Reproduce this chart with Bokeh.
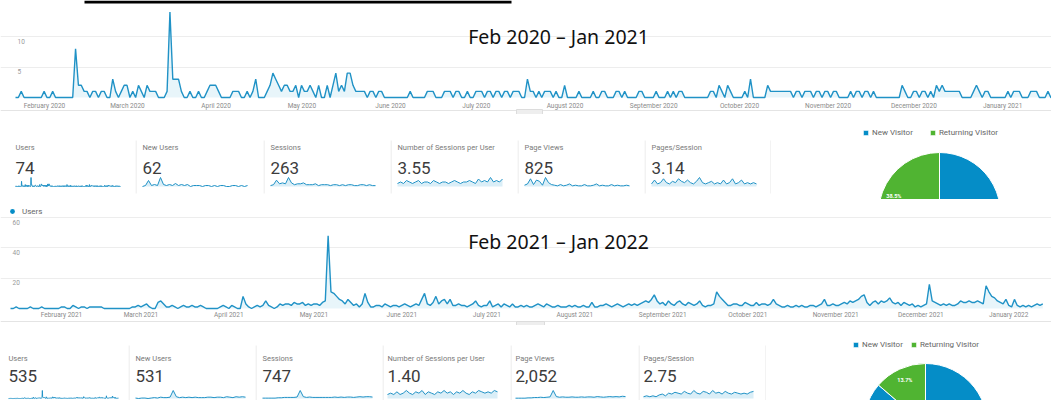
import math
import pandas as pd
from bokeh.plotting import figure
from bokeh.layouts import column, row
from bokeh.models import (Range1d, Grid, FixedTicker, Span, Legend, LegendItem,
                          Label, ColumnDataSource, BoxAnnotation)
from bokeh.core.properties import value
from bokeh.embed import file_html
from bokeh.resources import INLINE

# ---------------- data ----------------
period1_start = "2020-02-01"
users_p1 = (
    [0,0,1,0,0,0,0,0,0,0, 1,0,0,1,0,0,0,0,0,0, 0,8,2,2,1,1,0,1,1] +          # Feb 2020
    [0,1,1,0,0,3,1,0,1,2, 2,0,1,0,2,1,0,2,1,1, 1,0,0,0,1,14,3,3,3,1, 0] +    # Mar
    [0,1,0,0,1,0,0,1,2,2, 2,1,0,0,0,0,1,1,1,0, 0,1,0,1,3,0,0,0,1,2] +        # Apr
    [4,3,2,1,2,2,1,1,2,0, 2,1,1,2,1,0,2,0,0,2, 0,2,4,1,2,1,4,4,2,1, 1] +     # May
    [1,1,0,1,1,0,1,1,0,0, 0,0,0,0,0,0,0,1,0,0, 0,0,0,1,1,1,0,0,0,1] +        # Jun
    [1,1,0,1,1,0,0,1,0,0, 1,1,1,0,1,1,0,1,1,0, 1,1,0,1,1,1,0,0,3,1, 1] +     # Jul
    [0,1,0,1,1,1,0,1,0,0, 2,0,0,0,0,1,0,0,0,0, 1,0,0,1,1,0,0,0,1,1, 0] +     # Aug
    [1,0,0,0,0,1,1,0,0,0, 0,1,0,0,0,1,0,1,0,1, 1,0,0,0,0,0,0,0,0,0] +        # Sep
    [1,1,0,2,1,0,2,1,0,0, 0,0,1,0,3,0,0,0,0,0, 2,1,1,1,1,1,1,1,1,0, 1] +     # Oct
    [1,0,1,1,1,0,1,1,0,1, 1,0,1,1,0,0,0,0,1,0, 1,1,0,1,1,0,1,0,0,0] +        # Nov
    [0,0,0,0,0,0,2,1,0,0, 1,1,0,1,1,0,1,0,2,1, 2,1,1,1,1,1,1,0,0,0, 0] +     # Dec
    [1,2,1,0,1,1,0,0,0,0, 0,0,1,0,1,1,1,0,0,0, 1,1,1,0,0,0,1,0,0,0, 0]       # Jan 2021
)
months_p1 = ["February 2020", "March 2020", "April 2020", "May 2020", "June 2020",
             "July 2020", "August 2020", "September 2020", "October 2020",
             "November 2020", "December 2020", "January 2021"]
ticks_p1 = [5, 10]
tick_labels_p1 = ["5", "10"]
title_p1 = "Feb 2020 \u2013 Jan 2021"

period2_start = "2021-02-01"
users_p2 = (
    [0,0,1,0,0,0,0,1,0,0, 0,1,0,0,0,0,0,0,1,1, 0,0,2,1,0,1,1,0] +            # Feb 2021
    [1,1,1,1,1,0,0,0,0,0, 0,0,0,0,0,1,1,2,1,2, 3,1,0,0,4,5,3,1,1,2, 1] +     # Mar
    [0,1,2,1,1,2,1,1,2,1, 0,0,0,0,0,1,2,1,0,2, 1,0,0,8,3,1,0,1,2,1] +        # Apr
    [2,5,2,1,0,1,3,2,3,3, 2,4,3,3,4,2,3,2,3,3, 2,4,5,48,11,10,8,6,5,3, 6] +  # May
    [4,2,3,1,3,10,4,1,1,2, 2,1,3,2,1,2,2,1,2,3, 2,1,2,3,2,6,10,3,2,4] +      # Jun
    [8,3,5,6,3,6,2,2,3,2, 2,1,2,3,5,2,1,2,2,5, 1,2,3,1,3,2,1,3,1,1, 2] +     # Jul
    [1,2,1,1,2,3,2,1,3,2, 1,1,2,1,1,1,2,1,2,1, 1,2,1,1,4,1,1,2,2,3, 2] +     # Aug
    [1,2,3,2,1,2,3,2,3,2, 3,4,5,4,6,9,5,3,4,2, 5,3,2,4,5,3,2,4,3,2] +        # Sep
    [3,5,2,1,2,2,3,11,8,6, 4,2,2,3,3,2,2,4,3,2, 2,4,2,3,3,2,3,6,3,2, 1] +    # Oct
    [1,2,1,1,2,1,2,1,1,2, 2,1,2,3,6,2,2,3,2,2, 3,4,3,5,4,5,6,8,9,4] +        # Nov
    [2,4,5,3,5,4,5,7,4,3, 4,2,4,3,2,3,1,2,1,2, 3,16,5,4,3,2,3,2,3,2, 2] +    # Dec
    [3,5,4,4,5,4,4,5,4,3, 15,11,8,7,5,4,3,6,2,1, 6,2,1,2,1,2,1,2,3,2, 3]     # Jan 2022
)
months_p2 = ["February 2021", "March 2021", "April 2021", "May 2021", "June 2021",
             "July 2021", "August 2021", "September 2021", "October 2021",
             "November 2021", "December 2021", "January 2022"]
ticks_p2 = [20, 40, 60]
tick_labels_p2 = ["20", "40", "60"]
title_p2 = "Feb 2021 \u2013 Jan 2022"

kpi_names = ["Users", "New Users", "Sessions", "Number of Sessions per User",
             "Page Views", "Pages/Session"]
kpi_values_p1 = ["74", "62", "263", "3.55", "825", "3.14"]
kpi_values_p2 = ["535", "531", "747", "1.40", "2,052", "2.75"]

spark_new_users_p1 = [0,1,6,1,2,1,9,2,1,2,1,3,1,2,1,2,0,1,1,1,0,1,1,0,1,0,1,1,0,0,1,1,0,1,0,1]
spark_sessions_p1 = [1,2,7,3,4,3,10,4,2,3,3,4,2,2,2,3,1,2,2,2,1,2,2,1,2,1,2,2,1,1,2,2,1,2,1,1]
spark_spu_p1 = [2,3,2,4,3,2,3,4,2,3,3,2,4,3,2,3,3,2,3,4,3,2,3,3,4,3,2,5,3,4,3,6,3,4,3,5]
spark_pv_p1 = [2,4,12,3,10,8,2,14,6,3,2,1,3,1,2,4,1,2,1,1,3,1,1,2,4,1,2,1,1,3,1,2,1,1,2,1]
spark_pps_p1 = [2,5,2,3,6,3,2,4,3,6,4,3,5,3,2,4,7,3,2,3,4,2,3,2,5,2,3,6,2,3,5,2,3,2,3,2]

spark_new_users_p2 = [1,0,1,1,0,1,2,1,3,2,2,3,18,4,2,3,2,3,2,3,2,2,2,3,3,2,3,3,2,4,3,2,4,3,4,3]
spark_sessions_p2 = [1,1,1,1,1,2,2,3,3,3,3,4,22,5,3,4,3,3,3,3,3,3,3,4,3,4,3,4,4,3,4,5,4,5,5,4]
spark_spu_p2 = [3,4,3,5,3,4,6,4,3,5,4,6,3,5,4,3,5,4,6,4,5,3,5,4,6,4,3,5,4,6,5,4,5,4,6,5]
spark_pv_p2 = [1,1,1,1,2,2,3,3,4,3,4,5,25,6,4,5,4,4,5,4,4,5,4,5,5,4,6,5,4,5,6,5,6,5,7,6]
spark_pps_p2 = [2,3,2,3,2,4,5,3,6,5,7,6,5,8,6,5,9,6,5,8,7,5,9,6,7,5,8,6,5,7,6,5,6,5,7,8]

visitor_types = ["New Visitor", "Returning Visitor"]
visitor_share_p1 = [61.5, 38.5]
visitor_share_p2 = [86.3, 13.7]
visitor_colors = ["#058dc7", "#50b432"]

# ---------------- style ----------------
BLUE = "#2092c6"
W = 1051
FONT = "Roboto"
DAY_MS = 86400000.0


def base_fig(w, h, xr, yr):
    p = figure(width=w, height=h, x_range=xr, y_range=yr, output_backend="svg",
               toolbar_location=None, x_axis_location=None, y_axis_location=None,
               min_border=0)
    p.outline_line_color = None
    p.background_fill_color = "white"
    p.border_fill_color = "white"
    for g in list(p.grid):
        g.visible = False
    return p


def line_chart(values, start, months, ticks, tick_labels, title, *, px0, ppd, base,
               ppu, top, bottom, month_dx, month_dy, tick_dx, title_cx, title_cy,
               rule_y, tab, legend=False, topbar=None):
    t0 = pd.Timestamp(start).value / 1e6
    px2x = lambda px: t0 + (px - px0) / ppd * DAY_MS
    py2y = lambda py: (base - py) / ppu
    p = base_fig(W, bottom - top, Range1d(px2x(0), px2x(W)),
                 Range1d(py2y(bottom), py2y(top)))
    p.add_layout(Grid(dimension=1, ticker=FixedTicker(ticks=ticks),
                      grid_line_color="#ededed", grid_line_width=1))
    p.add_layout(Span(location=py2y(rule_y), dimension="width",
                      line_color="#e4e4e4", line_width=1))
    # little scroll handle of the screenshot
    p.add_layout(BoxAnnotation(left=px2x(tab[0]), right=px2x(tab[1]),
                               top=py2y(tab[2]), bottom=py2y(tab[3]),
                               fill_color="#eeeeee", fill_alpha=1,
                               line_color="#dcdcdc", line_alpha=1))
    if topbar is not None:
        p.add_layout(BoxAnnotation(left=px2x(topbar[0]), right=px2x(topbar[1]),
                                   top=py2y(topbar[2]), bottom=py2y(topbar[3]),
                                   fill_color="black", fill_alpha=1, line_alpha=0))
    dates = pd.date_range(start, periods=len(values), freq="D")
    src = ColumnDataSource(dict(date=dates, users=values))
    p.varea(x="date", y1=0, y2="users", source=src, fill_color="#058dc7", fill_alpha=0.09)
    p.line(x="date", y="users", source=src, line_color=BLUE, line_width=1.4)
    msrc = ColumnDataSource(dict(x=pd.date_range(start, periods=len(months), freq="MS"),
                                 y=[0] * len(months), label=months))
    p.text(x="x", y="y", text="label", source=msrc, x_offset=month_dx, y_offset=month_dy,
           text_align="center", text_baseline="top", text_font_size="6.5px",
           text_color="#8a8a8a", text_font=value(FONT))
    tsrc = ColumnDataSource(dict(x=[px2x(0)] * len(ticks), y=ticks, label=tick_labels))
    p.text(x="x", y="y", text="label", source=tsrc, x_offset=tick_dx, y_offset=2,
           text_align="left", text_baseline="top", text_font_size="6.5px",
           text_color="#999999", text_font=value(FONT))
    p.add_layout(Label(x=px2x(title_cx), y=py2y(title_cy), text=title,
                       text_align="center", text_baseline="middle",
                       text_font="Noto Sans", text_font_size="19.5px",
                       text_color="#111111"))
    if legend:
        dsrc = ColumnDataSource(dict(date=dates[:1], users=values[:1]))
        dot = p.scatter(x="date", y="users", source=dsrc, marker="circle", size=0,
                        fill_color="#058dc7", line_alpha=0)
        lg = Legend(items=[LegendItem(label="Users", renderers=[dot])],
                    location="top_left", margin=6, padding=0, glyph_width=12,
                    glyph_height=12, label_height=12, label_standoff=4,
                    label_text_font_size="8px", label_text_font=FONT,
                    label_text_color="#666666", border_line_alpha=0,
                    background_fill_alpha=0)
        p.add_layout(lg)
    return p


def kpi_card(name, val, series, w, h, *, pad, spark_w, label_y, value_y, spark_base,
             spark_h, border_y0, border_y1, left_border=True, right_border=False):
    p = base_fig(w, h, Range1d(0, w), Range1d(0, h))
    n = len(series)
    vmax = max(series)
    p.extra_x_ranges = {"t": Range1d(-pad / spark_w * (n - 1), (w - pad) / spark_w * (n - 1))}
    p.extra_y_ranges = {"v": Range1d(-spark_base / spark_h * vmax,
                                     (h - spark_base) / spark_h * vmax)}
    src = ColumnDataSource(dict(i=list(range(n)), v=series))
    p.varea(x="i", y1=0, y2="v", source=src, x_range_name="t", y_range_name="v",
            fill_color="#058dc7", fill_alpha=0.15)
    p.line(x="i", y="v", source=src, x_range_name="t", y_range_name="v",
           line_color=BLUE, line_width=1)
    p.add_layout(Label(x=pad, y=label_y, text=name, text_baseline="middle",
                       text_font=FONT, text_font_size="7.5px", text_color="#7a7a7a"))
    p.add_layout(Label(x=pad, y=value_y, text=val, text_baseline="middle",
                       text_font=FONT, text_font_size="17px", text_color="#3c3c3c"))
    if left_border:
        p.segment(x0=[0.5], y0=[border_y0], x1=[0.5], y1=[border_y1],
                  line_color="#e6e6e6", line_width=1)
    if right_border:
        p.segment(x0=[w - 0.5], y0=[border_y0], x1=[w - 0.5], y1=[border_y1],
                  line_color="#e6e6e6", line_width=1)
    return p


def pie(shares, w, h, cx, cy, r, legend_loc, legend_spacing):
    p = base_fig(w, h, Range1d(0, w), Range1d(0, h))
    frac_ret = shares[1] / sum(shares)
    a0 = math.pi / 2
    a1 = a0 + 2 * math.pi * frac_ret
    starts = [a1, a0]
    ends = [a0 + 2 * math.pi, a1]
    src = ColumnDataSource(dict(kind=visitor_types, share=shares, color=visitor_colors,
                                start=starts, end=ends))
    wr = p.wedge(x=cx, y=cy, radius=r, start_angle="start", end_angle="end",
                 direction="anticlock", fill_color="color", line_color="white",
                 line_width=1, source=src)
    # slice labels (only those that fall inside the visible part of the pie)
    lx, ly, lab = [], [], []
    for s, e, sh in zip(starts, ends, shares):
        m = (s + e) / 2
        x = cx + 0.8 * r * math.cos(m)
        y = cy + 0.8 * r * math.sin(m)
        if 2.5 < y < h - 4 and 10 < x < w - 10:
            lx.append(x); ly.append(y); lab.append(f"{sh:.1f}%")
    p.text(x=lx, y=ly, text=lab, text_align="center", text_baseline="middle",
           text_font_size="5.5px", text_color="white", text_font=value(FONT),
           text_font_style="bold")
    lg = Legend(items=[LegendItem(label=visitor_types[0], renderers=[wr], index=0),
                       LegendItem(label=visitor_types[1], renderers=[wr], index=1)],
                orientation="horizontal", location=legend_loc, margin=0, padding=0,
                spacing=legend_spacing, glyph_width=7, glyph_height=7, label_height=8,
                label_standoff=3, label_text_font_size="8px", label_text_font=FONT,
                label_text_color="#666666", border_line_alpha=0,
                background_fill_alpha=0)
    p.add_layout(lg)
    return p


# ---------------- build ----------------
chart1 = line_chart(users_p1, period1_start, months_p1, ticks_p1, tick_labels_p1, title_p1,
                    px0=15, ppd=2.86, base=97, ppu=6.1, top=0, bottom=114,
                    month_dx=29, month_dy=4, tick_dx=17, title_cx=558, title_cy=36,
                    rule_y=110, tab=(516, 542, 109, 114), topbar=(84, 511, 0, 3))

spark_p1 = [users_p1, spark_new_users_p1, spark_sessions_p1, spark_spu_p1,
            spark_pv_p1, spark_pps_p1]
widths1 = [135, 128, 127, 127, 127, 127]
pads1 = [15, 7, 7, 7, 7, 7]
cards1 = []
for k in range(6):
    cards1.append(kpi_card(kpi_names[k], kpi_values_p1[k], spark_p1[k], widths1[k], 85,
                           pad=pads1[k], spark_w=105, label_y=52, value_y=32,
                           spark_base=13, spark_h=9, border_y0=6, border_y1=59,
                           left_border=(k > 0), right_border=(k == 5)))
pie1 = pie(visitor_share_p1, W - sum(widths1), 85, 939 - sum(widths1), -14, 61,
           (91, 62), 16)

chart2 = line_chart(users_p2, period2_start, months_p2, ticks_p2, tick_labels_p2, title_p2,
                    px0=10, ppd=2.836, base=308, ppu=1.516, top=199, bottom=325,
                    month_dx=51, month_dy=2, tick_dx=12, title_cx=558, title_cy=241,
                    rule_y=321, tab=(516, 544, 321, 325), legend=True)

spark_p2 = [users_p2, spark_new_users_p2, spark_sessions_p2, spark_spu_p2,
            spark_pv_p2, spark_pps_p2]
widths2 = [128, 127, 127, 128, 128, 128]
pads2 = [8, 7, 7, 5, 5, 5]
cards2 = []
for k in range(6):
    cards2.append(kpi_card(kpi_names[k], kpi_values_p2[k], spark_p2[k], widths2[k], 75,
                           pad=pads2[k], spark_w=110, label_y=42, value_y=25,
                           spark_base=2, spark_h=8, border_y0=0, border_y1=55,
                           left_border=(k > 0), right_border=(k == 5)))
pie2 = pie(visitor_share_p2, W - sum(widths2), 75, 925 - sum(widths2), -25, 62,
           (86, 51), 7)

layout = column(chart1, row(*cards1, pie1), chart2, row(*cards2, pie2), spacing=0)

open("out.html", "w").write(file_html(layout, INLINE))
